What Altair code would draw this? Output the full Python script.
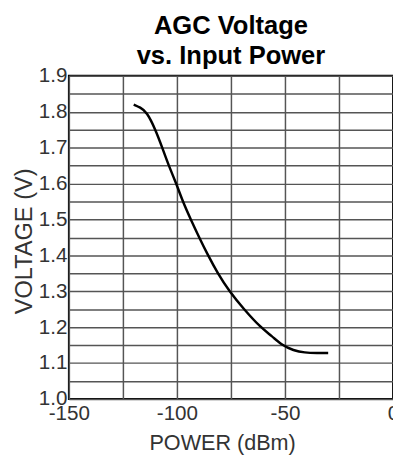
import altair as alt
import pandas as pd

# Curve
power_dbm = [-120, -117, -114, -109.9, -106.8, -103.8, -100.3, -97.3, -93.6, -89.7,
             -85.6, -81.1, -75.8, -69, -61.4, -56, -51.5, -46, -41, -35, -30]
voltage_v = [1.82, 1.812, 1.80, 1.75, 1.70, 1.65, 1.60, 1.55, 1.50, 1.45,
             1.40, 1.35, 1.30, 1.25, 1.20, 1.175, 1.15, 1.135, 1.129, 1.128, 1.128]

x_grid = [-150, -125, -100, -75, -50, -25, 0]
y_grid = [round(1.0 + 0.05 * i, 2) for i in range(19)]

df = pd.DataFrame({"power": power_dbm, "voltage": voltage_v})

FONT = "Liberation Sans"

chart = alt.Chart(df).mark_line(
    color="black", strokeWidth=2.5, interpolate="basis"
).encode(
    x=alt.X("power:Q",
            scale=alt.Scale(domain=[-150, 0], nice=False, zero=False),
            axis=alt.Axis(values=x_grid, title="POWER (dBm)",
                          labelExpr="datum.value % 50 == 0 ? '' + datum.value : ''",
                          titleX=156, titleY=51, titleBaseline="alphabetic",
                          titleAlign="center")),
    y=alt.Y("voltage:Q",
            scale=alt.Scale(domain=[1.0, 1.9], nice=False, zero=False),
            axis=alt.Axis(values=y_grid, title="VOLTAGE (V)",
                          labelExpr="round(datum.value * 100) % 10 == 0 ? format(datum.value, '.1f') : ''",
                          titleX=-45, titleY=168, titleAngle=-90,
                          titleBaseline="middle", titleAlign="center")),
).properties(
    width=330,
    height=329,
    padding={"left": 62, "top": 65, "right": 0, "bottom": 55},
    autosize=alt.AutoSizeParams(type="none"),
    title=alt.Title(["AGC Voltage", "vs. Input Power"], fontSize=26,
                    font=FONT, fontWeight="bold", color="black",
                    lineHeight=31, anchor="middle", frame="group", offset=-4),
).configure_view(
    stroke="black", strokeWidth=2
).configure_axis(
    domain=False, ticks=False, grid=True, gridColor="#555", gridWidth=1.5,
    gridOpacity=1, labelFont=FONT, labelFontSize=21, labelColor="#333",
    titleFont=FONT, titleFontWeight="normal", titleColor="#333",
    labelOverlap=False, labelBound=False, labelFlush=False,
).configure_axisX(
    labelPadding=4, titleFontSize=22
).configure_axisY(
    labelPadding=2, titleFontSize=24
)

chart.save("out.html", embed_options={"renderer": "svg", "actions": False})
